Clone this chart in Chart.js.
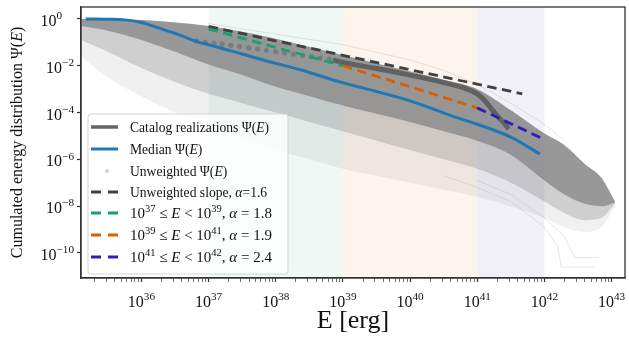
<!DOCTYPE html>
<html>
<head>
<meta charset="utf-8">
<script src="https://cdn.jsdelivr.net/npm/chart.js@4.4.0/dist/chart.umd.min.js"></script>
<style>
  html, body { margin: 0; padding: 0; background: #fff; }
  #wrap { width: 629px; height: 339px; }
</style>
</head>
<body>
<div id="wrap"><canvas id="chart" width="629" height="339"></canvas></div>
<script>
// values, stored as exponents: [log10 E, log10 Psi]
const medianCurve = [[35.17, 0], [35.5, -0.01], [35.75, -0.04], [36.0, -0.15], [36.25, -0.38],
  [36.5, -0.62], [36.86, -1.0], [37.0, -1.1], [37.5, -1.5], [38.0, -1.9], [38.34, -2.15],
  [38.94, -2.68], [39.5, -3.1], [40.0, -3.5], [40.72, -4.24], [41.0, -4.5], [41.5, -5.05], [41.93, -5.77]];

const unweightedDots = [[36.82, -0.94], [36.95, -0.99], [37.08, -1.04], [37.2, -1.08], [37.33, -1.13],
  [37.46, -1.18], [37.6, -1.24], [37.73, -1.29], [37.86, -1.34], [38.0, -1.4], [38.13, -1.45],
  [38.26, -1.5], [38.4, -1.56], [38.53, -1.61], [38.66, -1.67], [38.8, -1.73]];

const unweightedThick = [[38.85, -1.76], [39.0, -1.86], [39.5, -2.12], [40.0, -2.4], [40.5, -2.72],
  [40.8, -2.95], [41.0, -3.2], [41.1, -3.45], [41.2, -3.8], [41.3, -4.15], [41.4, -4.45], [41.47, -4.7]];

const unweightedSlope = [[37.0, -0.32], [41.67, -3.2]];
const fitLow = [[37.0, -0.43], [39.0, -2.0]];
const fitMid = [[39.0, -2.0], [41.0, -3.8]];
const fitHigh = [[41.0, -3.8], [42.0, -5.15]];

// spread of the catalog realizations (upper edge + three lower edges)
const bandLogE = [35.1, 35.5, 36.0, 36.5, 37.0, 37.5, 38.0, 38.5, 39.0, 39.5, 40.0, 40.5, 41.0, 41.5, 42.0, 42.3, 42.6, 42.85, 43.05];
const bandTop = [0.0, 0.0, -0.05, -0.15, -0.3, -0.55, -0.85, -1.2, -1.55, -1.9, -2.25, -2.6, -3.0, -3.9, -4.9, -5.4, -6.2, -6.8, -7.8];
const bandCore = [-0.3, -0.5, -0.9, -1.4, -1.95, -2.4, -2.9, -3.3, -3.7, -4.05, -4.4, -4.8, -5.2, -5.8, -6.9, -7.5, -7.9, -8.0, -7.85];
const bandMid = [-0.9, -1.4, -2.1, -2.7, -3.2, -3.6, -4.0, -4.4, -4.8, -5.2, -5.6, -6.0, -6.4, -7.0, -7.8, -8.3, -8.6, -8.5, -7.9];
const bandFaint = [-1.6, -2.5, -3.3, -4.0, -4.6, -5.1, -5.6, -6.0, -6.4, -6.7, -7.0, -7.3, -7.6, -8.0, -8.5, -8.9, -9.1, -8.9, -8.0];

// a few single realizations that stand out
const faintLines = [
  [[37.0, -0.2], [38.0, -0.65], [39.0, -1.1], [40.0, -1.75], [40.5, -2.2], [41.0, -2.8], [41.5, -3.6], [42.0, -4.5], [42.3, -5.2]],
  [[40.5, -6.7], [41.0, -7.2], [41.5, -7.8], [42.0, -8.9], [42.2, -9.7], [42.25, -10.6], [42.75, -10.6]],
  [[41.0, -6.9], [41.5, -7.5], [42.0, -8.5], [42.3, -9.3], [42.45, -10.2], [42.8, -10.2]]
];

// shaded fit ranges, log10 E
const spanRanges = [[37, 39], [39, 41], [41, 42]];

const xMajorExp = [36, 37, 38, 39, 40, 41, 42, 43];
const yMajorExp = [0, -2, -4, -6, -8, -10];

const legendLabels = [
  [["Catalog realizations "], ["\u03A8("], ["E", "i"], [")"]],
  [["Median "], ["\u03A8("], ["E", "i"], [")"]],
  [["Unweighted "], ["\u03A8("], ["E", "i"], [")"]],
  [["Unweighted slope, "], ["\u03B1", "i"], ["=1.6"]],
  [["10"], ["37", "s"], [" \u2264 "], ["E", "i"], [" < 10"], ["39", "s"], [", "], ["\u03B1", "i"], [" = 1.8"]],
  [["10"], ["39", "s"], [" \u2264 "], ["E", "i"], [" < 10"], ["41", "s"], [", "], ["\u03B1", "i"], [" = 1.9"]],
  [["10"], ["41", "s"], [" \u2264 "], ["E", "i"], [" < 10"], ["42", "s"], [", "], ["\u03B1", "i"], [" = 2.4"]]
];

const SERIF = '"Liberation Serif", "Times New Roman", serif';
const toPts = (arr) => arr.map(([e, p]) => ({ x: 10 ** e, y: 10 ** p }));
const bandPts = (vals) => bandLogE.map((e, i) => ({ x: 10 ** e, y: 10 ** vals[i] }));

const xTickVals = [];
for (let n = 35; n <= 43; n++) {
  for (let m = 1; m <= 9; m++) {
    const v = m * 10 ** n;
    if (v >= 10 ** 35.1 && v <= 10 ** 43.2) xTickVals.push(v);
  }
}
const isMajor = (v) => Math.abs(Math.log10(v) - Math.round(Math.log10(v))) < 1e-6;

// draw text made of plain / italic / superscript pieces
function drawParts(ctx, parts, x, y, size, measureOnly) {
  let cx = x;
  parts.forEach(([t, st = ""]) => {
    const sup = st.includes("s");
    const it = st.includes("i");
    const fs = sup ? size * 0.7 : size;
    ctx.font = (it ? "italic " : "") + fs + "px " + SERIF;
    if (!measureOnly) ctx.fillText(t, cx, sup ? y - size * 0.42 : y);
    cx += ctx.measureText(t).width;
  });
  return cx - x;
}

const spanPlugin = {
  id: "spans",
  beforeDatasetsDraw(chart) {
    const { ctx, chartArea: a, scales: { x } } = chart;
    const colors = ["rgba(27,158,119,0.07)", "rgba(217,95,2,0.07)", "rgba(117,112,179,0.1)"];
    ctx.save();
    spanRanges.forEach(([lo, hi], i) => {
      const x0 = x.getPixelForValue(10 ** lo);
      const x1 = x.getPixelForValue(10 ** hi);
      ctx.fillStyle = colors[i];
      ctx.fillRect(x0, a.top, x1 - x0, a.bottom - a.top);
    });
    ctx.restore();
  }
};

const decorPlugin = {
  id: "decor",
  afterDatasetsDraw(chart) {
    const { ctx, chartArea: a } = chart;
    ctx.save();
    // legend box
    const bx = 88, by = 114, bw = 200, bh = 160, r = 3;
    ctx.beginPath();
    ctx.moveTo(bx + r, by);
    ctx.arcTo(bx + bw, by, bx + bw, by + bh, r);
    ctx.arcTo(bx + bw, by + bh, bx, by + bh, r);
    ctx.arcTo(bx, by + bh, bx, by, r);
    ctx.arcTo(bx, by, bx + bw, by, r);
    ctx.closePath();
    ctx.fillStyle = "rgba(255,255,255,0.8)";
    ctx.fill();
    ctx.strokeStyle = "#d4d4d4";
    ctx.lineWidth = 1;
    ctx.stroke();

    const rowY = [127, 149, 171, 192, 213, 235, 257];
    const handles = [
      { kind: "line", color: "#646464", w: 3.5 },
      { kind: "line", color: "#1f77b4", w: 3 },
      { kind: "dot", color: "#cfcfcf" },
      { kind: "dash", color: "#404040" },
      { kind: "dash", color: "#1b9e77" },
      { kind: "dash", color: "#d95f02" },
      { kind: "dash", color: "#2b1fb8" }
    ];
    handles.forEach((h, i) => {
      const y = rowY[i];
      if (h.kind === "dot") {
        ctx.fillStyle = h.color;
        ctx.beginPath();
        ctx.arc(107, y, 2, 0, Math.PI * 2);
        ctx.fill();
      } else {
        ctx.strokeStyle = h.color;
        ctx.lineWidth = h.w || 2.8;
        ctx.setLineDash(h.kind === "dash" ? [10, 7] : []);
        ctx.beginPath();
        ctx.moveTo(91, y);
        ctx.lineTo(118, y);
        ctx.stroke();
        ctx.setLineDash([]);
      }
      ctx.fillStyle = "#111";
      ctx.textBaseline = "alphabetic";
      ctx.textAlign = "left";
      drawParts(ctx, legendLabels[i], 130, y + 5, i >= 4 ? 15 : 13.6);
    });

    // frame
    ctx.strokeStyle = "#333";
    ctx.lineWidth = 1.3;
    ctx.strokeRect(a.left, a.top, a.right - a.left, a.bottom - a.top);
    ctx.restore();
  },
  afterDraw(chart) {
    const { ctx, chartArea: a, scales: { x, y } } = chart;
    ctx.save();
    ctx.fillStyle = "#111";
    ctx.textBaseline = "alphabetic";
    ctx.textAlign = "left";
    xMajorExp.forEach((e) => {
      const px = x.getPixelForValue(10 ** e);
      const parts = [["10"], [String(e), "s"]];
      const w = drawParts(ctx, parts, 0, 0, 16, true);
      drawParts(ctx, parts, px - w / 2, 307, 16);
    });
    yMajorExp.forEach((e) => {
      const py = y.getPixelForValue(10 ** e);
      const parts = [["10"], [e < 0 ? "\u2212" + (-e) : String(e), "s"]];
      const w = drawParts(ctx, parts, 0, 0, 16, true);
      const right = e < 0 ? 74 : 62;
      drawParts(ctx, parts, right - w, py + 7, 16);
    });
    // axis titles
    ctx.font = "26px " + SERIF;
    ctx.textAlign = "center";
    ctx.fillText("E [erg]", (a.left + a.right) / 2, 328);
    ctx.textAlign = "left";
    const yt = [["Cumulated energy distribution "], ["\u03A8("], ["E", "i"], [")"]];
    const tw = drawParts(ctx, yt, 0, 0, 16, true);
    ctx.translate(22, (a.top + a.bottom) / 2);
    ctx.rotate(-Math.PI / 2);
    drawParts(ctx, yt, -tw / 2, 0, 16);
    ctx.restore();
  }
};

const datasets = [
  { data: bandPts(bandTop), borderWidth: 0, pointRadius: 0, fill: false, order: 20 },
  { data: bandPts(bandFaint), borderWidth: 0, pointRadius: 0, fill: 0, backgroundColor: "rgba(128,128,128,0.12)", order: 19 },
  { data: bandPts(bandMid), borderWidth: 0, pointRadius: 0, fill: 0, backgroundColor: "rgba(128,128,128,0.3)", order: 18 },
  { data: bandPts(bandCore), borderWidth: 0, pointRadius: 0, fill: 0, backgroundColor: "rgba(128,128,128,0.7)", order: 17 }
];
faintLines.forEach((l) => datasets.push({
  data: toPts(l), borderColor: "rgba(150,150,150,0.3)", borderWidth: 0.8, pointRadius: 0, tension: 0,
  cubicInterpolationMode: "default", order: 15
}));
datasets.push(
  { data: toPts(unweightedDots), showLine: false, pointRadius: 2.6, pointBorderWidth: 0,
    pointBackgroundColor: "rgba(105,105,105,0.6)", order: 12 },
  { data: toPts(unweightedThick), borderColor: "rgba(95,95,95,0.95)", borderWidth: 5, pointRadius: 0, order: 11 },
  { data: toPts(medianCurve), borderColor: "#1f77b4", borderWidth: 3, pointRadius: 0, order: 10 },
  { data: toPts(unweightedSlope), borderColor: "#404040", borderWidth: 2.8, borderDash: [9.5, 5.5], pointRadius: 0, order: 9 },
  { data: toPts(fitLow), borderColor: "#1b9e77", borderWidth: 2.8, borderDash: [9.5, 5.5], pointRadius: 0, order: 8 },
  { data: toPts(fitMid), borderColor: "#d95f02", borderWidth: 2.8, borderDash: [9.5, 5.5], pointRadius: 0, order: 7 },
  { data: toPts(fitHigh), borderColor: "#2b1fb8", borderWidth: 2.8, borderDash: [9.5, 5.5], pointRadius: 0, order: 6 }
);

new Chart(document.getElementById("chart").getContext("2d"), {
  type: "line",
  data: { datasets: datasets },
  options: {
    responsive: false,
    animation: false,
    devicePixelRatio: 1,
    layout: { padding: { top: 7, right: 1, left: 0, bottom: 0 } },
    elements: { line: { cubicInterpolationMode: "monotone" } },
    plugins: { legend: { display: false }, tooltip: { enabled: false } },
    scales: {
      x: {
        type: "logarithmic",
        min: 10 ** 35.1,
        max: 10 ** 43.2,
        afterBuildTicks: (s) => { s.ticks = xTickVals.map((v) => ({ value: v })); },
        afterFit: (s) => { s.height = 61; },
        grid: {
          drawOnChartArea: false,
          tickLength: 4,
          tickColor: "#333",
          tickWidth: (c) => (c.tick && isMajor(c.tick.value) ? 1.2 : 0.7)
        },
        border: { color: "#333", width: 1.3 },
        ticks: { display: false }
      },
      y: {
        type: "logarithmic",
        min: 10 ** -11.07,
        max: 10 ** 0.51,
        afterBuildTicks: (s) => { s.ticks = yMajorExp.map((e) => ({ value: 10 ** e })); },
        afterFit: (s) => { s.width = 81; },
        grid: { drawOnChartArea: false, tickLength: 4, tickColor: "#333", tickWidth: 1.2 },
        border: { color: "#333", width: 1.3 },
        ticks: { display: false }
      }
    }
  },
  plugins: [spanPlugin, decorPlugin]
});
</script>
</body>
</html>
